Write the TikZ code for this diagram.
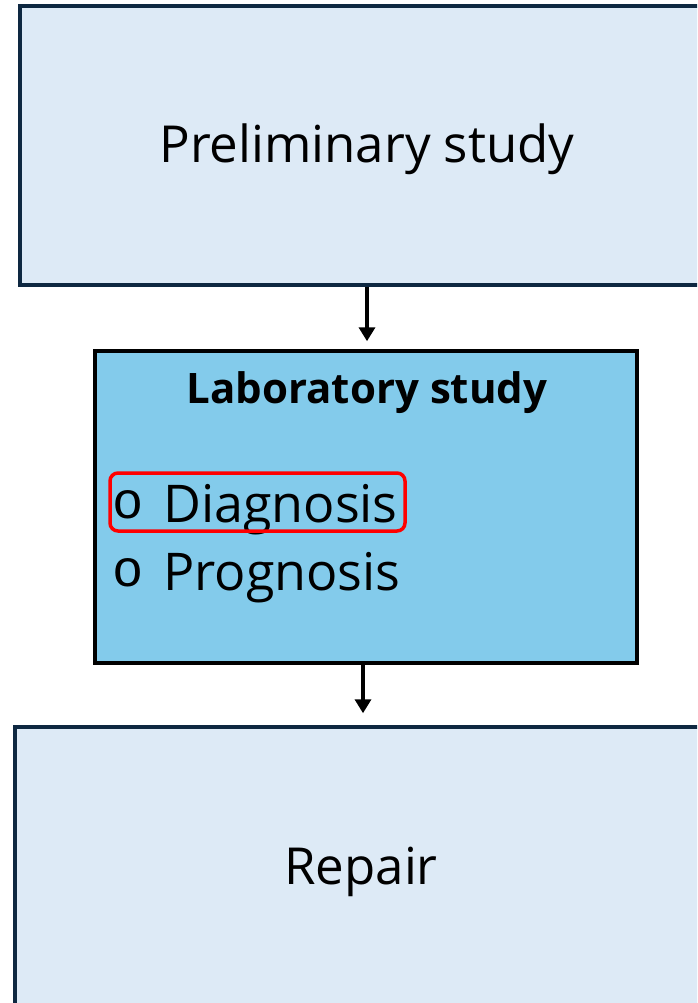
\documentclass[tikz,border=0pt]{standalone}
\usepackage{fontspec}
\setmainfont{Open Sans}
\newfontfamily\bulletfont{Liberation Mono}
\usetikzlibrary{arrows.meta}
\definecolor{lightbox}{HTML}{DDEAF6}
\definecolor{navyline}{HTML}{0E2841}
\definecolor{midfill}{HTML}{83CBEB}
\definecolor{hlred}{HTML}{FF0000}
\tikzset{
  bigbox/.style={draw=navyline, fill=lightbox, line width=3.5pt, rectangle, inner sep=0pt},
  midbox/.style={draw=black, fill=midfill, line width=3.5pt, rectangle, inner sep=0pt},
  arr/.style={draw=black, line width=4.5pt, -{Triangle[width=16pt,length=14pt]}},
  hlbox/.style={draw=hlred, line width=3.5pt, rounded corners=8pt, rectangle, inner sep=0pt},
  txt/.style={inner sep=0pt, text=black},
}
\begin{document}
\begin{tikzpicture}[x=1pt,y=-1pt]
\useasboundingbox (0,0) rectangle (697,1003);
\clip (0,0) rectangle (697,1003);
\fill[white] (0,0) rectangle (697,1003);
% boxes
\node[bigbox, minimum width=694pt, minimum height=279pt] (top) at (367,145.5) {};
\node[midbox, minimum width=542pt, minimum height=312pt] (mid) at (366,507) {};
\node[bigbox, minimum width=692pt, minimum height=278pt] (bot) at (361,866) {};
% texts
\node[txt, anchor=base, font=\fontsize{51}{60}\selectfont] (toptext) at (367,163) {Preliminary study};
\node[txt, anchor=base, font=\fontsize{42}{50}\selectfont\bfseries] (midtitle) at (367,403) {Laboratory study};
\node[txt, anchor=base west, font=\fontsize{52}{60}\bulletfont] (b1) at (112,518) {o};
\node[txt, anchor=base west, font=\fontsize{52}{60}\selectfont] (diag) at (163,522) {Diagnosis};
\node[txt, anchor=base west, font=\fontsize{52}{60}\bulletfont] (b2) at (112,586) {o};
\node[txt, anchor=base west, font=\fontsize{52}{60}\selectfont] (prog) at (163,590) {Prognosis};
\node[txt, anchor=base, font=\fontsize{51}{60}\selectfont] (bottext) at (361,884) {Repair};
% highlight
\node[hlbox, minimum width=295pt, minimum height=58pt] (hl) at (257.5,502) {};
% arrows
\draw[arr, shorten >=8pt] (top.south) -- (top.south |- mid.north);
\coordinate (a2) at ([xshift=-3pt]mid.south);
\draw[arr, shorten >=12pt] (a2) -- (a2 |- bot.north);
\end{tikzpicture}
\end{document}
